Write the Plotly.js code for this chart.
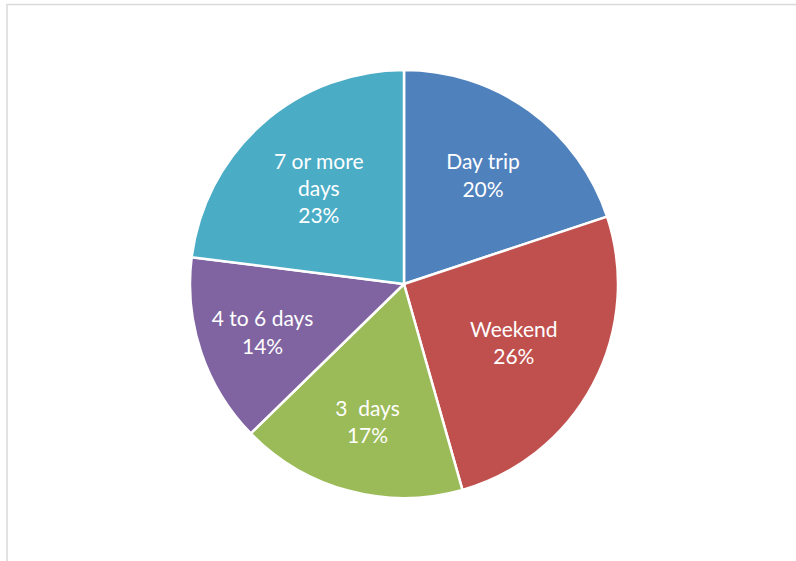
<!DOCTYPE html>
<html>
<head>
<meta charset="utf-8">
<script src="https://cdn.plot.ly/plotly-3.0.1.min.js"></script>
<style>html,body{margin:0;padding:0;background:#fff;}#chart{width:796px;height:561px;}</style>
</head>
<body>
<div id="chart"></div>
<script>
const categories = ["Day trip", "Weekend", "3  days", "4 to 6 days", "7 or more days"];
const displayLabels = ["Day trip", "Weekend", "3  days", "4 to 6 days", "7 or more<br>days"];
const values = [19.9, 25.7, 17.1, 14.3, 23.0];
const colors = ["#4F81BD", "#C0504D", "#9BBB59", "#8064A2", "#4BACC6"];

const W = 796, H = 561;
const cx = 404, cy = 284, r = 214;

const trace = {
  type: "pie",
  labels: categories,
  values: values,
  text: displayLabels,
  texttemplate: "%{text}<br>%{percent:.0%}",
  textinfo: "text+percent",
  textposition: "inside",
  insidetextorientation: "horizontal",
  sort: false,
  direction: "clockwise",
  rotation: 0,
  marker: { colors: colors, line: { color: "#ffffff", width: 2.5 } },
  textfont: { family: "Lato, 'Open Sans', sans-serif", size: 21, color: "#ffffff" },
  hoverinfo: "label+percent",
  showlegend: false,
  domain: {
    x: [(cx - r) / W, (cx + r) / W],
    y: [(H - cy - r) / H, (H - cy + r) / H]
  }
};

const layout = {
  width: W, height: H,
  margin: { l: 0, r: 0, t: 0, b: 0 },
  paper_bgcolor: "#ffffff",
  showlegend: false,
  shapes: [{
    type: "rect", xref: "paper", yref: "paper",
    x0: 7 / W, x1: 1.05, y0: -0.05, y1: 1 - 4.5 / H,
    line: { color: "#d9d9d9", width: 1.5 }
  }]
};

Plotly.newPlot("chart", [trace], layout, { displayModeBar: false, staticPlot: true });
</script>
</body>
</html>
